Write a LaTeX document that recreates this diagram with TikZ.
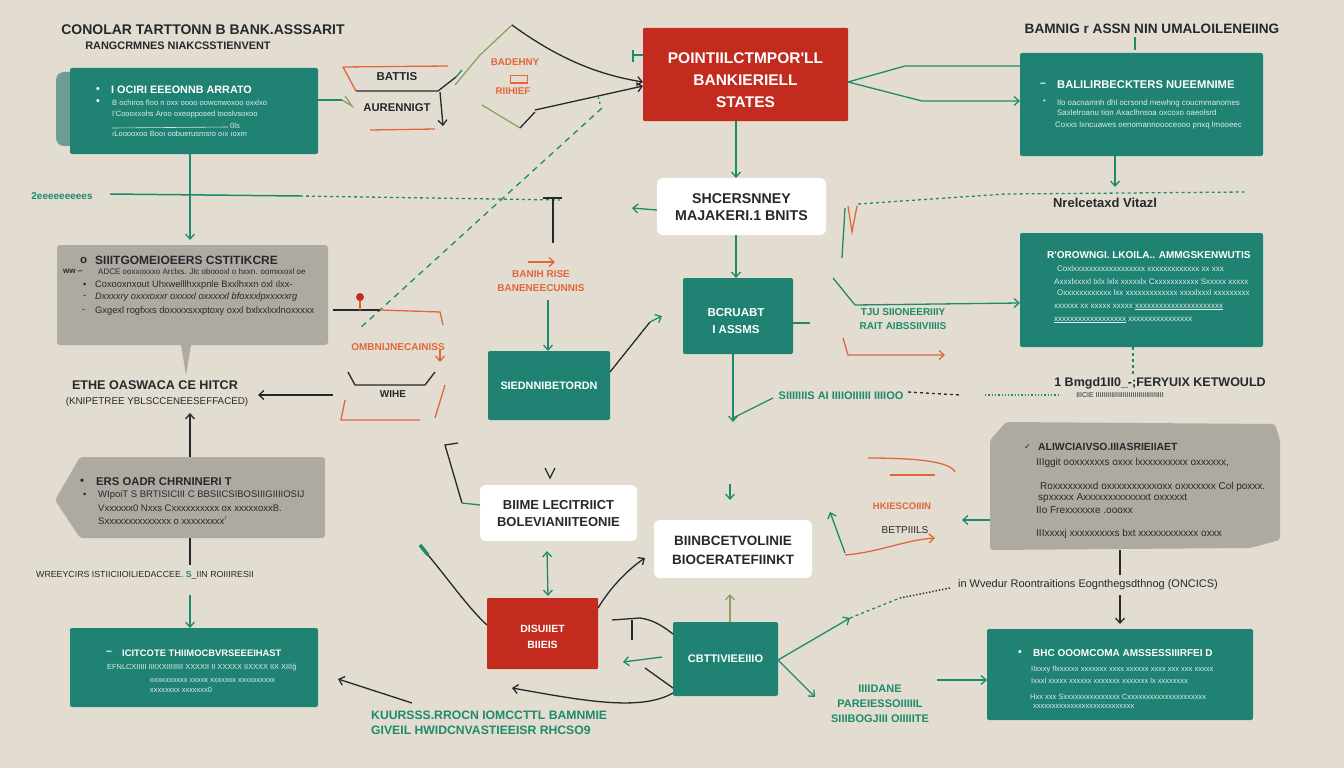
\documentclass[tikz,border=0pt]{standalone}
\usepackage{fontspec}
\setmainfont{Liberation Sans}
\newfontfamily\cond{Liberation Sans}
\newfontfamily\dejavu{DejaVu Sans}
\newcommand{\fsz}[1]{\fontsize{#1}{1.2\dimexpr #1pt\relax}\selectfont}
\newcommand{\fszl}[2]{\fontsize{#1}{#2}\selectfont}
\usetikzlibrary{arrows.meta}
\definecolor{bg}{HTML}{E3DDD1}
\definecolor{teal}{HTML}{1F8272}
\definecolor{tealgray}{HTML}{6F9C93}
\definecolor{tealline}{HTML}{1E8A6C}
\definecolor{redbox}{HTML}{C42B1F}
\definecolor{graybox}{HTML}{AFAAA1}
\definecolor{orangeL}{HTML}{E0673A}
\definecolor{ink}{HTML}{25292C}
\definecolor{olive}{HTML}{8FA060}
\begin{document}
\begin{tikzpicture}[x=1pt,y=-1pt,
  box/.style={inner sep=0pt, outer sep=0pt},
  tealbox/.style={box, fill=teal, rounded corners=2pt},
  redbx/.style={box, fill=redbox, rounded corners=1pt},
  whitebox/.style={box, fill=white, rounded corners=6pt},
  hd/.style={font=\cond\bfseries\fsz{14}, text=ink, inner sep=0pt},
  wt/.style={font=\cond\bfseries\fsz{10.5}, text=white, anchor=west, inner sep=0pt},
  sm/.style={font=\cond\fsz{7.6}, text=white!85!teal, anchor=west, inner sep=0pt},
  dk/.style={font=\cond\fsz{9.3}, text=ink, anchor=west, inner sep=0pt},
  dkb/.style={font=\cond\bfseries\fsz{11.5}, text=ink, anchor=west, inner sep=0pt},
  boxtxt/.style={text=white, align=center, inner sep=0pt},
  lbl/.style={font=\cond\bfseries\fszl{10}{14.5}, inner sep=0pt, align=center},
  cn/.style={draw=ink, line width=1.3pt},
  tl/.style={draw=tealline, line width=1.3pt},
  ol/.style={draw=orangeL, line width=1.3pt},
  arr/.style={-{Straight Barb[length=5pt,width=9pt]}},
  darr/.style={{Straight Barb[length=5pt,width=9pt]}-{Straight Barb[length=5pt,width=9pt]}}
]
\useasboundingbox[fill=bg] (0,0) rectangle (1344,768);

% ---------- titles ----------
\node[hd] (t1) at (203,30) {CONOLAR TARTTONN B BANK.ASSSARIT};
\node[hd, font=\cond\bfseries\fsz{10.9}] (t1b) at (178,46) {RANGCRMNES NIAKCSSTIENVENT};
\node[hd, font=\cond\bfseries\fsz{13.6}] (t2) at (1152,29) {BAMNIG r ASSN NIN UMALOILENEIING};

% ---------- box A ----------
\fill[tealgray, rounded corners=8pt] (56,72) rectangle (100,146);
\node[tealbox, minimum width=248pt, minimum height=86pt] (A) at (194,111) {};
\node[wt] (a0) at (96,90) {•};
\node[wt, font=\cond\bfseries\fsz{10.8}] (a1) at (111,90) {I OCIRI EEEONNB ARRATO};
\node[wt] (a2) at (96,102) {•};
\node[sm] (a3) at (112,103) {B ochiros floo n oxx oooo oowcnwoxoo oxxlxo};
\node[sm] (a4) at (112,115) {I'Coooxxohs Aroo oxeopposed tooslvsoxoo};
\draw[white!80!teal, line width=0.6pt] (112,128) -- (228,127);
\node[sm] (a5) at (230,126) {0ls};
\node[sm] (a6) at (112,134) {ıLooooxoo Booı oobuerusmsro oıx ıoxm};

% ---------- top right box ----------
\node[tealbox, minimum width=243pt, minimum height=103pt] (TR) at (1141.5,104.5) {};
\node[wt] (tr0) at (1040,85) {–};
\node[wt, font=\cond\bfseries\fsz{11.2}] (tr1) at (1057,85) {BALILIRBECKTERS NUEEMNIME};
\node[sm] (tr2) at (1043,102) {•};
\node[sm, font=\cond\fsz{7.9}] (tr3) at (1057,103) {Ilo oacnamnh dhl ocrsond mewhng coucmmanomes};
\node[sm, font=\cond\fsz{7.9}] (tr4) at (1057,113) {Saxlelroanu tion Axaclhnsoa oxcoxo oaeolsrd~ ˙};
\node[sm, font=\cond\fsz{7.9}] (tr5) at (1055,125) {Coxxs lxncuawes oenomannoooceooo pnxq lmooeec};

% ---------- red top ----------
\node[redbx, minimum width=205pt, minimum height=93pt] (R1) at (745.5,74.5) {};
\node[boxtxt, font=\cond\bfseries\fszl{15.5}{22}] (r1t) at (745.5,80) {POINTIILCTMPOR'LL\\BANKIERIELL\\STATES};

% ---------- white center ----------
\node[whitebox, minimum width=169pt, minimum height=57pt] (W1) at (741.5,206.5) {};
\node[boxtxt, text=ink, font=\cond\bfseries\fsz{14.2}] (w1t) at (741.5,207) {SHCERSNNEY\\MAJAKERI.1 BNITS};

% ---------- teal center ----------
\node[tealbox, minimum width=110pt, minimum height=76pt] (T2) at (738,316) {};
\node[boxtxt, font=\cond\bfseries\fszl{11.5}{16.5}] (t2t) at (736,321) {BCRUABT\\I ASSMS};
\node[tealbox, minimum width=122pt, minimum height=69pt] (T3) at (549,385.5) {};
\node[boxtxt, font=\cond\bfseries\fsz{10.8}] (t3t) at (549,386) {SIEDNNIBETORDN};

% ---------- gray box B ----------
\node[box, fill=graybox, rounded corners=3pt, minimum width=271pt, minimum height=100pt] (B) at (192.5,295) {};
\fill[graybox] (181,345) -- (191,345) -- (186,375) -- cycle;
\node[dkb] (b0) at (80,260) {o};
\node[dkb, font=\cond\bfseries\fsz{12}] (b1) at (95,260) {SIIITGOMEIOEERS CSTITIKCRE};
\node[dkb, font=\cond\bfseries\fsz{8}] (b2) at (63,271) {ww ‒};
\node[dk, font=\cond\fsz{8}] (b3) at (98,272) {ADCE ooxxoxxxo Arclxs. Jlc oboooxl o hxxn. oomxxoxl oe};
\node[dk] (b4a) at (83,285) {•};
\node[dk] (b4) at (95,285) {Coxooxnxout Uhxwelllhxxpnle Bxxlhxxn oxl ılxx-};
\node[dk] (b5a) at (83,297) {-};
\node[dk, font=\cond\itshape\fsz{9.3}] (b5) at (95,297) {Dxxxxry oxxxoxxr oxxxxl oxxxxxl bfoxxxlpxxxxxrg};
\node[dk] (b6a) at (82,311) {-};
\node[dk] (b6) at (95,311) {Gxgexl rogfxxs doxxxxsxxptoxy oxxl  bxlxxlxxlnoxxxxx};

% ---------- gray box C ----------
\fill[graybox, rounded corners=3pt] (80,457) -- (325,457) -- (325,538) -- (80,538) -- (55,500) -- cycle;
\coordinate (C) at (190,497);
\node[dkb, font=\cond\bfseries\fsz{11.3}] (c0) at (80,482) {•};
\node[dkb, font=\cond\bfseries\fsz{11.3}] (c1) at (96,482) {ERS OADR CHRNINERI T};
\node[dk] (c2a) at (83,495) {•};
\node[dk, font=\cond\fsz{9.5}] (c2) at (98,495) {WIpoiT S BRTISICIII C BBSIICSIBOSIIIGIIIIOSIJ};
\node[dk, font=\cond\fsz{9.5}] (c3) at (98,508) {Vxxxxxx0 Nxxs Cxxxxxxxxxx ox xxxxxoxxB.};
\node[dk, font=\cond\fsz{9.5}] (c4) at (98,521) {Sxxxxxxxxxxxxxx  o xxxxxxxxx$'$};

% ---------- teal box D ----------
\node[tealbox, minimum width=248pt, minimum height=79pt] (D) at (194,667.5) {};
\node[wt] (d0) at (106,653) {–};
\node[wt, font=\cond\bfseries\fsz{9.4}] (d1) at (122,653) {ICITCOTE THIIMOCBVRSEEEIHAST};
\node[sm, font=\cond\fsz{7.4}] (d2) at (107,668) {EFNLCXIIIII IIIIXXIIIIIIII XXXXII II XXXXX IIXXXX IIX XIIIĝ};
\node[sm, font=\cond\fsz{7.4}] (d3) at (150,681) {oxxxxxxxxx xxxxx xxxxxxx xxxxxxxxxx};
\node[sm, font=\cond\fsz{7.4}] (d4) at (150,690) {xxxxxxxx xxxxxxx0};

% ---------- gray box H ----------
\fill[graybox, rounded corners=3pt] (1006,422) -- (1275,424) -- (1280,440) -- (1280,540) -- (1250,548) -- (990,550) -- (990,440) -- cycle;
\coordinate (H) at (1135,486);
\node[dkb, font=\dejavu\fsz{8}] (h0) at (1024,447) {✓};
\node[dkb, font=\cond\bfseries\fsz{10.4}] (h1) at (1038,447) {ALIWCIAIVSO.IIIASRIEIIAET};
\node[dk, font=\cond\fsz{10}] (h2) at (1036,463) {IIIggit ooxxxxxxs oxxx lxxxxxxxxxx oxxxxxx,};
\node[dk, font=\cond\fsz{10}] (h3) at (1040,487) {Roxxxxxxxxd oxxxxxxxxxxoxx oxxxxxxx Col poxxx.};
\node[dk, font=\cond\fsz{10}] (h4) at (1038,498) {spxxxxx Axxxxxxxxxxxxxt oxxxxxt};
\node[dk, font=\cond\fsz{10}] (h5) at (1036,510) {IIo Frexxxxxxe .oooxx};
\node[dk, font=\cond\fsz{10}] (h6) at (1036,534) {IIIxxxxj xxxxxxxxxs bxt xxxxxxxxxxxx oxxx};

% ---------- teal box E ----------
\node[tealbox, minimum width=243pt, minimum height=114pt] (E) at (1141.5,290) {};
\node[wt, font=\cond\bfseries\fsz{10}] (e1) at (1047,255) {R'OROWNGI. LKOILA.. AMMGSKENWUTIS};
\node[sm, font=\cond\fsz{8}] (e2) at (1057,269) {Coxlxxxxxxxxxxxxxxxxxx xxxxxxxxxxxxx xx xxx};
\node[sm, font=\cond\fsz{8}] (e3) at (1054,282) {Axxxlxxxxl lxlx  lxlx xxxxxlx Cxxxxxxxxxxx Sxxxxx xxxxx};
\node[sm, font=\cond\fsz{8}] (e4) at (1057,293) {Oxxxxxxxxxxxx lxx  xxxxxxxxxxxxx xxxxlxxxl xxxxxxxxx};
\node[sm, font=\cond\fsz{8}] (e5) at (1054,307) {xxxxxx xx xxxxx xxxxx  \underline{xxxxxxxxxxxxxxxxxxxxxx}};
\node[sm, font=\cond\fsz{8}] (e6) at (1054,320) {\underline{xxxxxxxxxxxxxxxxxx} xxxxxxxxxxxxxxxx};

% ---------- teal box I ----------
\node[tealbox, minimum width=266pt, minimum height=91pt] (I) at (1120,674.5) {};
\node[wt] (i0) at (1018,653) {•};
\node[wt, font=\cond\bfseries\fsz{10}] (i1) at (1033,653) {BHC OOOMCOMA AMSSESSIIIRFEI D};
\node[sm, font=\cond\fsz{7.5}] (i2) at (1031,670) {IIxxxy flxxxxxx xxxxxxx xxxx xxxxxx xxxx xxx  xxx xxxxx};
\node[sm, font=\cond\fsz{7.5}] (i3) at (1031,681) {Ixxxl  xxxxx xxxxxx  xxxxxxx xxxxxxx lx xxxxxxxx};
\node[sm, font=\cond\fsz{7.5}] (i4) at (1030,697) {Hxx xxx Sxxxxxxxxxxxxxxx Cxxxxxxxxxxxxxxxxxxxxx};
\node[sm, font=\cond\fsz{7.5}] (i5) at (1033,707) {xxxxxxxxxxxxxxxxxxxxxxxxxxx};

% ---------- white F, G / red R2 / teal T4 ----------
\node[whitebox, minimum width=157pt, minimum height=56pt] (F) at (558.5,513) {};
\node[boxtxt, text=ink, font=\cond\bfseries\fszl{13}{17}] (ft) at (558.5,514) {BIIME LECITRIICT\\BOLEVIANIITEONIE};
\node[whitebox, minimum width=158pt, minimum height=58pt] (G) at (733,549) {};
\node[boxtxt, text=ink, font=\cond\bfseries\fszl{13.5}{19}] (gt) at (733,550) {BIINBCETVOLINIE\\BIOCERATEFIINKT};
\node[redbx, minimum width=111pt, minimum height=71pt] (R2) at (542.5,633.5) {};
\node[boxtxt, font=\cond\bfseries\fszl{10.5}{16}] (r2t) at (542.5,637) {DISUIIET\\BIIEIS};
\node[tealbox, minimum width=105pt, minimum height=74pt] (T4) at (725.5,659) {};
\node[boxtxt, font=\cond\bfseries\fsz{11}] (t4t) at (725.5,659) {CBTTIVIEEIIIO};

% ---------- free labels ----------
\node[lbl, text=ink, font=\cond\bfseries\fsz{11.5}] (l1) at (397,77) {BATTIS};
\node[lbl, text=ink, font=\cond\bfseries\fsz{11.3}] (l2) at (397,108) {AURENNIGT};
\node[lbl, text=orangeL, font=\cond\bfseries\fsz{9.8}] (l3) at (515,62) {BADEHNY};
\node[lbl, text=orangeL, font=\cond\bfseries\fsz{9.8}] (l4) at (513,91) {RIIHIEF};
\draw[orangeL, line width=1pt] (510,76) rectangle (527,83);
\node[lbl, text=ink, font=\cond\bfseries\fsz{13}] (l5) at (1105,203) {Nrelcetaxd Vitazl};
\node[lbl, text=tealline, font=\cond\bfseries\fsz{10}] (l6) at (62,196) {2eeeeeeeees};
\node[lbl, text=orangeL] (l7) at (541,281) {BANIH RISE\\BANENEECUNNIS};
\node[lbl, text=orangeL] (l8) at (398,347) {OMBNIJNECAINISS};
\node[lbl, text=ink] (l9) at (393,394) {WIHE};
\node[lbl, text=ink, font=\cond\bfseries\fsz{12.6}] (l10) at (155,385) {ETHE OASWACA CE HITCR};
\node[lbl, text=ink, font=\cond\fsz{9.8}] (l11) at (157,402) {(KNIPETREE YBLSCCENEESEFFACED)};
\node[lbl, text=ink, font=\cond\fsz{8.8}] (l12) at (145,575) {WREEYCIRS ISTIICIIOILIEDACCEE.\ \textcolor{tealline}{\textbf{S}}\_IIN ROIIIRESII};
\node[lbl, text=tealline, font=\cond\bfseries\fszl{12.2}{15}, align=left, anchor=west] (l13) at (371,723) {KUURSSS.RROCN IOMCCTTL BAMNMIE\\GIVEIL HWIDCNVASTIEEISR RHCSO9};
\node[lbl, text=tealline] (l14) at (903,319) {TJU SIIONEERIIIY\\RAIT AIBSSIIVIIIIS};
\node[lbl, text=tealline, font=\cond\bfseries\fsz{11}] (l15) at (841,396) {SIIIIIIIS AI IIIIOIIIIII IIIIOO};
\node[lbl, text=ink, font=\cond\bfseries\fsz{12.5}] (l16) at (1160,383) {1 Bmgd1II0\_-;FERYUIX KETWOULD};
\node[lbl, text=ink, font=\cond\fsz{7}] (l17) at (1120,395) {IIICIE IIIIIIIIIIIIIIIIIIIIIIIIIIIIIIIIIII};
\node[lbl, text=orangeL, font=\cond\bfseries\fsz{9.5}] (l18) at (902,506) {HKIESCOIIIN};
\node[lbl, text=ink, font=\cond\fsz{10}] (l19) at (905,530) {BETPIIILS};
\node[lbl, text=ink, font=\cond\fsz{11}] (l20) at (1088,585) {in Wvedur Roontraitions Eognthegsdthnog (ONCICS)};
\node[lbl, text=tealline, font=\cond\bfseries\fszl{11}{15}] (l21) at (880,704) {IIIIDANE\\PAREIESSOIIIIIL\\SIIIBOGJIII OIIIIITE};

% ---------- coordinates for free ends ----------
\coordinate (v0) at (512,25);
\coordinate (p1) at (342,100);

% ---------- connectors: top-left area ----------
\draw[tl] (A.east |- 0,100) -- (p1);
\draw[olive, line width=1.3pt] (p1) -- (352,106) -- (345,96);
\draw[ol] (343,67) -- (448,66);
\draw[ol] (343,67) -- (356,91);
\draw[cn] (356,91) -- (438,91) -- (456,77);
\draw[tl] (456,77) -- (462,70);
\draw[cn, arr] (440,92) -- (443,126);
\draw[ol] (370,130) -- (435,129);
\draw[olive, line width=1.3pt] (v0) -- (480,55) -- (455,85);
\draw[cn, arr] (v0) .. controls (560,60) and (600,75) .. (R1.west |- 0,82);
\draw[olive, line width=1.3pt] (482,105) -- (520,128);
\draw[cn] (520,128) -- (535,112);
\draw[cn, arr] (535,110) -- (R1.west |- 0,86);
\draw[tl] (633,55) -- (643,55);
\draw[tl] (633,50) -- (633,62);
\draw[tl, dashed, dash pattern=on 6pt off 5pt] (602,108) -- (358,330);
\draw[tl, dashed] (598,96) -- (600,104);

% ---------- red top to right box ----------
\draw[tl] (R1.east |- 0,82) -- (905,66) -- (TR.west |- 0,66);
\draw[tl, arr] (R1.east |- 0,82) -- (922,101) -- (TR.west |- 0,101);
\draw[tl] (1135,37) -- (1135,50);
\draw[tl, arr] (TR.south -| 1115,0) -- (1115,187);
\draw[tl, dashed] (858,204) -- (1005,194) -- (1245,192);
\draw[tl] (845,208) -- (842,258);
\draw[ol] (848,206) -- (852,232) -- (857,206);

% ---------- center column ----------
\draw[tl, arr] (R1.south -| 736,0) -- (W1.north -| 736,0);
\draw[tl, arr] (W1.west |- 0,210) -- (632,208);
\draw[tl, arr] (W1.south -| 736,0) -- (T2.north -| 736,0);
\draw[cn] (610,372) -- (650,322);
\draw[tl, arr] (650,322) -- (662,316);
\draw[tl] (T2.east |- 0,323) -- (810,323);
\draw[tl, arr] (T2.south -| 733,0) -- (733,422);
\draw[tl] (733,418) -- (773,398);
\draw[cn, dashed] (908,392) -- (960,395);

% ---------- right middle ----------
\draw[tl] (833,278) -- (855,305);
\draw[tl, arr] (855,305) -- (E.west |- 0,303);
\draw[ol, arr] (843,338) -- (848,355) -- (945,355);
\draw[tl, dashed] (E.south -| 1133,0) -- (1133,375);
\draw[tl, dotted, line width=1.6pt] (985,395) -- (1058,395);

% ---------- left column ----------
\draw[tl, line width=1.5pt] (110,194) -- (300,196);
\draw[tl, dashed] (300,196) -- (560,200);
\draw[cn] (543,198) -- (562,198);
\draw[cn] (553,198) -- (553,243);
\draw[tl, arr] (A.south -| 190,0) -- (190,240);
\draw[ol, arr] (528,262) -- (555,262);
\draw[tl, arr] (548,300) -- (T3.north -| 548,0);
\draw[cn] (333,310) -- (380,310);
\draw[ol] (380,310) -- (440,312) -- (443,325);
\draw[orangeL, line width=1.2pt] (360,310) -- (360,300);
\fill[redbox] (360,297) circle (4pt);
\draw[ol, arr] (440,350) -- (440,362);
\draw[cn] (348,372) -- (355,385) -- (425,385) -- (435,372);
\draw[ol] (445,385) -- (435,418);
\draw[ol] (345,400) -- (341,420) -- (420,420);
\draw[cn, arr] (333,395) -- (258,395);
\draw[cn, arr] (C.north |- 0,457) -- (190,413);
\draw[cn] (190,538) -- (190,565);
\draw[tl, arr] (190,595) -- (D.north -| 190,0);
\draw[cn, arr] (412,703) -- (338,679);

% ---------- bottom middle ----------
\draw[cn] (458,443) -- (445,445) -- (462,503);
\draw[tl] (462,503) -- (F.west |- 0,505);
\draw[cn] (545,468) -- (550,478) -- (555,468);
\draw[tl, darr] (F.south -| 547,0) ++(0,10) -- (548,596);
\draw[cn] (R2.west |- 0,625) .. controls (470,610) and (445,575) .. (428,555);
\draw[tl, line width=3.5pt] (428,555) -- (420,545);
\draw[cn, arr] (R2.east |- 0,608) .. controls (612,585) and (630,568) .. (645,558);
\draw[tl, arr] (730,484) -- (730,500);
\draw[olive, line width=1.3pt, arr] (T4.north -| 730,0) -- (730,594);
\draw[cn] (612,620) -- (640,618) .. controls (655,620) and (665,628) .. (T4.west |- 0,634);
\draw[cn] (632,620) -- (632,640);
\draw[cn] (T4.west |- 0,688) -- (645,668);
\draw[tl, arr] (662,657) -- (623,662);
\draw[cn, arr] (T4.west |- 0,693) .. controls (640,712) and (580,700) .. (512,688);
\draw[tl, arr] (T4.east |- 0,660) -- (815,697);
\draw[tl, arr] (T4.east |- 0,660) -- (850,618);
\draw[tl, dashed] (850,618) -- (900,598);
\draw[cn, dotted, line width=1.5pt] (900,598) -- (950,588);

% ---------- right bottom ----------
\draw[ol] (868,458) .. controls (920,458) and (950,462) .. (955,472);
\draw[ol] (890,475) -- (935,475);
\draw[tl, arr] (845,553) -- (830,512);
\draw[ol, arr] (845,555) .. controls (880,552) and (905,540) .. (935,538);
\draw[tl, arr] (990,520) -- (962,520);
\draw[cn] (1120,550) -- (1120,575);
\draw[cn, arr] (1120,595) -- (1120,624);
\draw[tl, arr] (937,680) -- (I.west |- 0,680);
\end{tikzpicture}
\end{document}
